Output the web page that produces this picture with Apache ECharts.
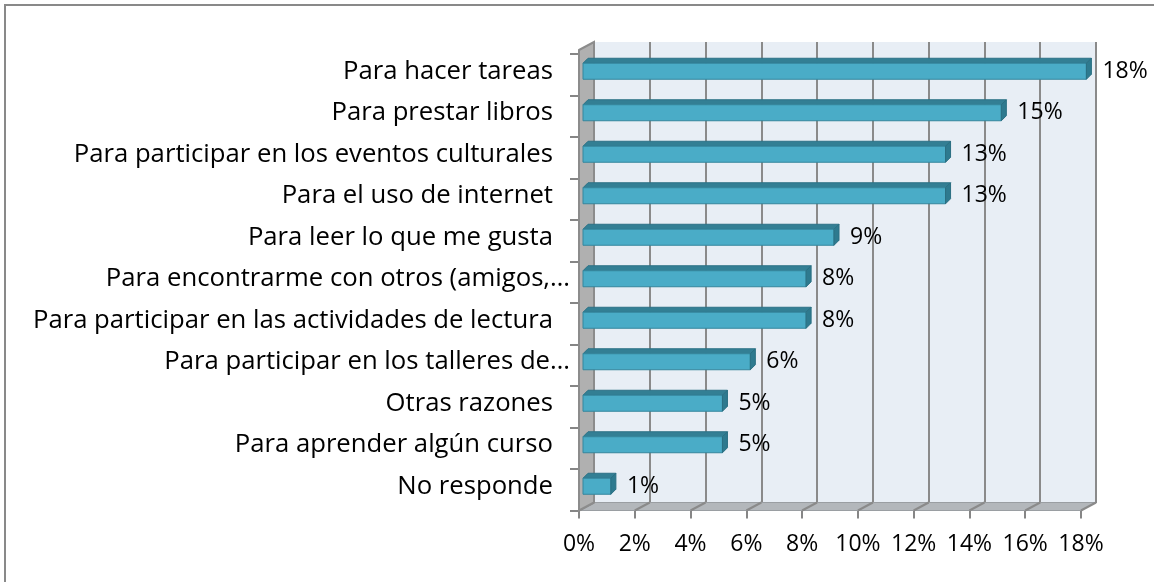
<!DOCTYPE html>
<html><head><meta charset="utf-8">
<script src="https://cdn.jsdelivr.net/npm/echarts@6/dist/echarts.min.js"></script>
<style>html,body{margin:0;padding:0;background:#fff}#c{width:1154px;height:582px}</style>
</head><body><div id="c"></div>
<script>
// ---- data ----
const categories = [
  "Para hacer tareas",
  "Para prestar libros",
  "Para participar en los eventos culturales",
  "Para el uso de internet",
  "Para leer lo que me gusta",
  "Para encontrarme con otros (amigos,…",
  "Para participar en las actividades de lectura",
  "Para participar en los talleres de…",
  "Otras razones",
  "Para aprender algún curso",
  "No responde"
];
const values = [18.05, 15.0, 13.0, 13.0, 9.0, 8.0, 8.0, 6.0, 5.0, 5.0, 1.0];
const axisMin = 0, axisMax = 18, axisStep = 2;

// ---- layout / style ----
const FONT = "'Open Sans', 'Liberation Sans', sans-serif";
const CAT_FS = 25.7, NUM_FS = 23;
const G = {left: 579, top: 54, right: 73, bottom: 71.5};
const D = {dx: 15, dy: -8};          // 3D depth offset of back wall
const BAR = {h: 16, ox: 4, oy: -3.5, dx: 5, dy: -5};

const chart = echarts.init(document.getElementById('c'), null, {renderer: 'canvas'});

const option = {
  animation: false,
  backgroundColor: '#ffffff',
  grid: [
    {left: G.left, top: G.top, right: G.right, bottom: G.bottom, containLabel: false},
    {left: G.left + D.dx, top: G.top - 4 + D.dy, right: G.right - D.dx, bottom: G.bottom - D.dy - 0.5,
     show: true, backgroundColor: '#e8eef5', borderWidth: 0, z: 0}
  ],
  xAxis: [
    {gridIndex: 0, type: 'value', min: axisMin, max: axisMax, interval: axisStep,
     axisLine: {show: true, lineStyle: {color: '#868686', width: 1}},
     axisTick: {show: true, length: 8, lineStyle: {color: '#868686', width: 2}},
     splitLine: {show: false},
     axisLabel: {formatter: '{value}%', fontFamily: FONT, fontSize: NUM_FS, color: '#000', margin: 22}},
    {gridIndex: 1, type: 'value', min: axisMin, max: axisMax, interval: axisStep,
     axisLine: {show: false}, axisTick: {show: false}, axisLabel: {show: false},
     splitLine: {show: true, lineStyle: {color: '#8a8a8a', width: 2}}}
  ],
  yAxis: [
    {gridIndex: 0, type: 'category', data: categories, inverse: true,
     axisLine: {show: false},
     axisTick: {show: true, length: 9, lineStyle: {color: '#868686', width: 2}},
     axisLabel: {
       margin: 9, fontFamily: FONT, fontSize: CAT_FS, color: '#000',
       formatter: function (v) {
         return v.endsWith('…') ? '{t|' + v + '}' : '{p|' + v + '}';
       },
       rich: {
         t: {fontFamily: FONT, fontSize: CAT_FS, color: '#000', padding: [0, 0, 7, 0]},
         p: {fontFamily: FONT, fontSize: CAT_FS, color: '#000', padding: [0, 17, 7, 0]}
       }
     }},
    {gridIndex: 1, type: 'category', data: categories, inverse: true, show: false}
  ],
  series: [{
    type: 'custom',
    xAxisIndex: 0, yAxisIndex: 0,
    z: 10,
    data: values.map((v, i) => [v, i]),
    renderItem: function (params, api) {
      const v = api.value(0), ci = api.value(1);
      const p0 = api.coord([0, ci]), p1 = api.coord([v, ci]);
      const x0 = p0[0] + BAR.ox, x1 = p1[0] + BAR.ox;
      const yc = p0[1] + BAR.oy, yt = yc - BAR.h / 2, yb = yc + BAR.h / 2;
      return {type: 'group', children: [
        {type: 'polygon', shape: {points: [[x0, yt], [x0 + BAR.dx, yt + BAR.dy], [x1 + BAR.dx, yt + BAR.dy], [x1, yt]]},
         style: {fill: '#337f94', stroke: '#2c7286', lineWidth: 1}},
        {type: 'rect', shape: {x: x0, y: yt, width: x1 - x0, height: BAR.h},
         style: {fill: '#4aacc7', stroke: '#34869d', lineWidth: 1}},
        {type: 'polygon', shape: {points: [[x1, yt], [x1 + BAR.dx, yt + BAR.dy], [x1 + BAR.dx, yb + BAR.dy], [x1, yb]]},
         style: {fill: '#2e7a8f', stroke: '#2a6f82', lineWidth: 1}},
        {type: 'text', style: {text: Math.round(v) + '%', x: x1 + 16, y: yc, verticalAlign: 'middle', align: 'left',
         font: NUM_FS + 'px ' + FONT, fill: '#000'}}
      ]};
    }
  }]
};
chart.setOption(option);

// decorative 3D walls derived from the axes
const px = v => chart.convertToPixel({xAxisIndex: 0}, v);
const pxB = v => chart.convertToPixel({xAxisIndex: 1}, v);
const fx0 = px(axisMin), fx1 = px(axisMax);
const bx0 = pxB(axisMin), bx1 = pxB(axisMax);
const fyTop = G.top - 4, fyBot = 582 - G.bottom;
const byTop = fyTop + D.dy, byBot = fyBot + D.dy;
const gfx = [];
// outer border
gfx.push({type: 'rect', shape: {x: 5, y: 5, width: 1200, height: 650}, style: {fill: 'none', stroke: '#898989', lineWidth: 2}, z: 1});
// floor
gfx.push({type: 'polygon', shape: {points: [[fx0, fyBot], [bx0, byBot], [bx1, byBot], [fx1, fyBot]]},
  style: {fill: '#b3b7bb', stroke: '#9a9ea2', lineWidth: 1}, z: 1});
for (let v = axisMin; v <= axisMax; v += axisStep) {
  gfx.push({type: 'line', shape: {x1: pxB(v), y1: byBot, x2: px(v), y2: fyBot}, style: {stroke: '#8a8a8a', lineWidth: 2}, z: 2});
}
// side wall
gfx.push({type: 'polygon', shape: {points: [[fx0, fyTop], [bx0, byTop], [bx0, byBot], [fx0, fyBot]]},
  style: {fill: '#b0b0b0', stroke: '#8c8c8c', lineWidth: 2}, z: 2});
chart.setOption({graphic: gfx});
</script>
</body></html>
